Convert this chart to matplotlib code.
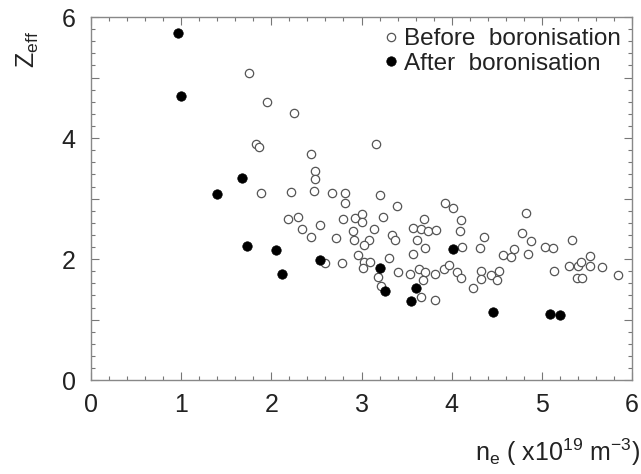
"""Zeff versus line-averaged density, before and after boronisation."""

import matplotlib

matplotlib.use("Agg")

import matplotlib.pyplot as plt
from matplotlib.ticker import FuncFormatter, MultipleLocator

plt.rcParams["font.family"] = ["Liberation Sans", "DejaVu Sans"]
plt.rcParams["mathtext.fontset"] = "custom"
plt.rcParams["mathtext.rm"] = "Liberation Sans"
plt.rcParams["mathtext.it"] = "Liberation Sans"
plt.rcParams["mathtext.default"] = "regular"

# before boronisation (open circles)
before_ne = [
    1.75, 1.95, 2.25, 1.83, 1.86, 2.44, 3.16, 2.48, 2.48, 1.88,
    2.22, 2.47, 2.67, 2.82, 2.82, 3.21, 3.39, 3.93, 4.01, 2.19,
    2.29, 2.34, 2.44, 2.54, 2.79, 2.93, 3.01, 3.01, 2.90, 3.24,
    3.14, 2.72, 2.92, 3.08, 3.03, 3.34, 3.37, 3.57, 3.69, 3.66,
    3.74, 3.83, 3.62, 3.70, 4.10, 4.09, 4.36, 4.82, 4.78, 4.88,
    5.03, 5.12, 5.33, 4.11, 4.31, 4.69, 2.96, 3.03, 3.09, 3.31,
    2.78, 2.60, 3.18, 3.22, 3.40, 3.02, 3.57, 3.54, 3.64, 3.70,
    3.68, 3.81, 3.91, 3.97, 4.06, 4.10, 4.24, 4.32, 4.33, 4.44,
    4.53, 4.50, 3.66, 3.82, 4.57, 4.66, 4.85, 5.13, 5.30, 5.40,
    5.43, 5.53, 5.53, 5.39, 5.45, 5.67, 5.84,
]
before_zeff = [
    5.08, 4.59, 4.41, 3.90, 3.85, 3.73, 3.90, 3.46, 3.33, 3.10,
    3.11, 3.13, 3.10, 3.10, 2.93, 3.06, 2.88, 2.93, 2.85, 2.66,
    2.69, 2.49, 2.37, 2.57, 2.67, 2.68, 2.74, 2.62, 2.47, 2.69,
    2.49, 2.35, 2.31, 2.32, 2.24, 2.40, 2.31, 2.52, 2.66, 2.49,
    2.47, 2.48, 2.31, 2.18, 2.64, 2.46, 2.37, 2.77, 2.43, 2.30,
    2.20, 2.19, 2.31, 2.20, 2.19, 2.16, 2.07, 1.95, 1.96, 2.02,
    1.94, 1.93, 1.71, 1.56, 1.78, 1.86, 2.09, 1.75, 1.83, 1.79,
    1.66, 1.75, 1.83, 1.91, 1.79, 1.69, 1.52, 1.80, 1.67, 1.74,
    1.80, 1.66, 1.38, 1.32, 2.07, 2.04, 2.08, 1.81, 1.88, 1.89,
    1.95, 2.05, 1.89, 1.68, 1.68, 1.87, 1.73,
]

# after boronisation (filled circles)
after_ne = [0.97, 1.00, 1.40, 1.67, 1.73, 2.05, 2.12, 2.54,
            3.21, 3.26, 3.55, 3.60, 4.01, 4.46, 5.09, 5.20]
after_zeff = [5.74, 4.69, 3.07, 3.34, 2.21, 2.15, 1.75, 1.98,
              1.86, 1.48, 1.31, 1.53, 2.17, 1.12, 1.10, 1.07]

fig = plt.figure(figsize=(6.41, 4.74), dpi=100)
ax = fig.add_axes([0.142, 0.198, 0.844, 0.766])

ax.plot(before_ne, before_zeff, "o", ms=6.0, mfc="white", mec="#555555",
        mew=0.9, label="Before  boronisation", zorder=2)
ax.plot(after_ne, after_zeff, "o", ms=6.8, mfc="black", mec="black",
        mew=0.5, label="After  boronisation", zorder=3)

ax.set_xlim(0, 6)
ax.set_ylim(0, 6)
ax.xaxis.set_major_locator(MultipleLocator(1))
ax.xaxis.set_minor_locator(MultipleLocator(0.2))
ax.yaxis.set_major_locator(MultipleLocator(1))
ax.yaxis.set_minor_locator(MultipleLocator(0.2))
ax.yaxis.set_major_formatter(
    FuncFormatter(lambda v, _: f"{v:.0f}" if round(v) % 2 == 0 else "")
)

ax.tick_params(which="both", direction="in", top=True, right=True,
               color="#777777", width=0.8, labelsize=18, labelcolor="#222222")
ax.tick_params(which="major", length=6)
ax.tick_params(which="minor", length=3)
ax.tick_params(axis="x", which="major", pad=9)
ax.tick_params(axis="y", which="major", pad=11)
for spine in ax.spines.values():
    spine.set_color("#888888")
    spine.set_linewidth(1.0)

ax.legend(loc="upper right", frameon=False, fontsize=17.5, handletextpad=0.05,
          borderaxespad=0.05, labelspacing=0.12, handlelength=1.0,
          labelcolor="#222222")

fig.text(0.043, 0.895, r"Z$_{eff}$", rotation=90, fontsize=18,
         color="#222222", ha="center", va="center")
fig.text(0.998, 0.028, r"n$_e$ ( x10$^{19}$ m$^{-3}$)", fontsize=18,
         color="#222222", ha="right", va="baseline")

fig.savefig("out.png", dpi=100)
